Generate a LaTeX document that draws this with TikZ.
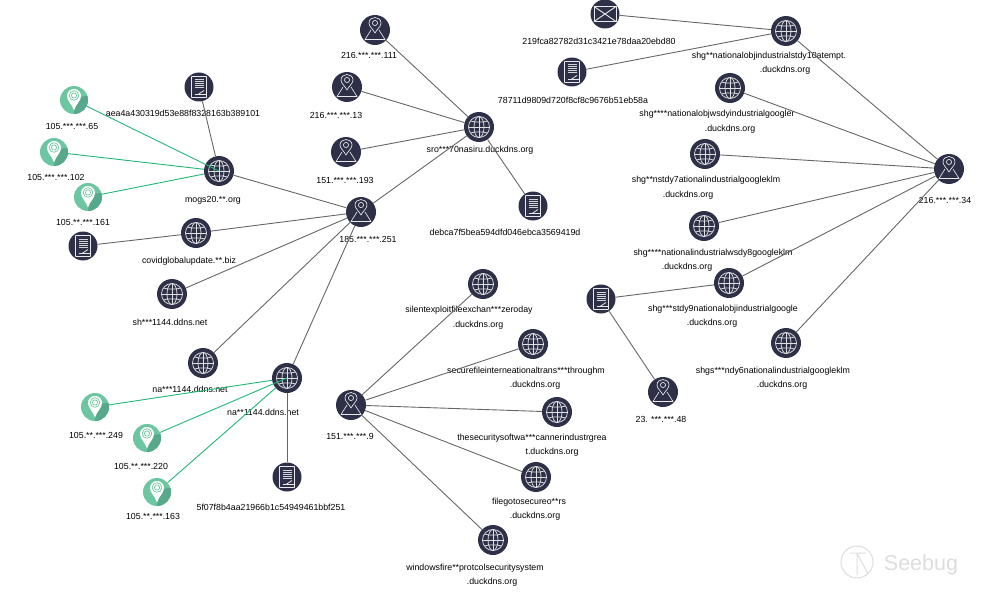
\documentclass[tikz,border=0pt]{standalone}
\usepackage{fontspec}
\setmainfont{Liberation Sans}
\usepackage{tikz}
\usetikzlibrary{positioning, calc}
\definecolor{darknode}{HTML}{2E3047}
\definecolor{greennode}{HTML}{6CC6A1}
\definecolor{greenshade}{HTML}{58A98B}
\definecolor{greenedge}{HTML}{1FB873}
\definecolor{greyedge}{HTML}{666666}
\definecolor{logogrey}{HTML}{DDDDDD}
\newcommand{\globeicon}{%
    \begin{scope}[shift={(path picture bounding box.center)}, draw=white!85!darknode, line width=0.75pt]
        \draw (0,0) circle (10.5);
        \draw (0,0) ellipse (5 and 10.5);
        \draw (0,-10.5) -- (0,10.5);
        \draw (-10.5,0) -- (10.5,0);
        \draw (-8.5,-6) .. controls (-4,-4.5) and (4,-4.5) .. (8.5,-6);
        \draw (-8.5,6) .. controls (-4,4.5) and (4,4.5) .. (8.5,6);
    \end{scope}}
\newcommand{\locateicon}{%
    \begin{scope}[shift={(path picture bounding box.center)}, draw=white!90!darknode, line width=0.65pt, line join=round]
        \draw (0,3) .. controls (-2,-1) and (-6,-3.5) .. (-6,-7) .. controls (-6,-10.5) and (-3,-12.5) .. (0,-12.5)
              .. controls (3,-12.5) and (6,-10.5) .. (6,-7) .. controls (6,-3.5) and (2,-1) .. (0,3) -- cycle;
        \draw (0,-7) circle (2.6);
        \draw (-4,0) -- (-10,9.5) -- (10,9.5) -- (4,0);
    \end{scope}}
\newcommand{\fileicon}{%
    \begin{scope}[shift={(path picture bounding box.center)}, draw=white!90!darknode, line width=0.75pt]
        \draw[rounded corners=0.5pt] (-7.5,-10.5) rectangle (7.5,10.5);
        \foreach \liney in {-7,-5,-3,-1,1}
            \draw[line width=1pt, white!80!darknode] (-4.5,\liney) -- (4.5,\liney);
        \draw (-1,7.5) -- (5,3.5);
        \draw (-4.5,7.5) -- (7,7.5);
    \end{scope}}
\newcommand{\mailicon}{%
    \begin{scope}[shift={(path picture bounding box.center)}, draw=white!90!darknode, line width=0.9pt]
        \draw (-11,-7.5) rectangle (11,7.5);
        \draw (-11,-7.5) -- (11,7.5) (11,-7.5) -- (-11,7.5);
    \end{scope}}
\newcommand{\greenicon}{%
    \begin{scope}[shift={(path picture bounding box.center)}]
        \fill[greenshade] (0,10) -- (5,-3) -- (20,-5) -- (20,20) -- (0,20) -- cycle;
        \fill[white] (0,10.5) .. controls (-2,4) and (-7,1) .. (-7,-4) .. controls (-7,-8) and (-4,-11) .. (0,-11)
              .. controls (4,-11) and (7,-8) .. (7,-4) .. controls (7,1) and (2,4) .. (0,10.5) -- cycle;
        \draw[greennode, line width=0.7pt] (0,-4.5) circle (4.8);
        \draw[greennode, line width=0.7pt] (0,-4.5) circle (2.6);
    \end{scope}}
\tikzstyle{globe}=[%
      circle, fill=darknode, inner sep=0pt, minimum size=30pt, path picture={\globeicon}
]
\tikzstyle{locate}=[%
      circle, fill=darknode, inner sep=0pt, minimum size=30pt, path picture={\locateicon}
]
\tikzstyle{file}=[%
      circle, fill=darknode, inner sep=0pt, minimum size=29pt, path picture={\fileicon}
]
\tikzstyle{mail}=[%
      circle, fill=darknode, inner sep=0pt, minimum size=29pt, path picture={\mailicon}
]
\tikzstyle{victim}=[%
      circle, fill=greennode, inner sep=0pt, minimum size=28pt, path picture={\greenicon}
]
\tikzstyle{lbl}=[%
      text=black, inner sep=0pt, font=\fontsize{8.8}{10}\selectfont
]
\tikzstyle{grn}=[greenedge, line width=0.9pt]
\tikzstyle{gry}=[greyedge, line width=0.9pt]
\begin{document}
\begin{tikzpicture}[x=1pt, y=-1pt]
    \useasboundingbox (0,0) rectangle (986,594);

    % left cluster
    \node[victim] (vicA) at (74,100) {};
    \node[lbl] (vicAtxt) at (72,126) {105.***.***.65};
    \node[victim] (vicB) at (54,152) {};
    \node[lbl] (vicBtxt) at (56,177) {105.***.***.102};
    \node[victim] (vicC) at (88,197) {};
    \node[lbl] (vicCtxt) at (83,222) {105.**.***.161};
    \node[file] (fileAea) at (199,87) {};
    \node[lbl] (fileAeatxt) at (183,113) {aea4a430319d53e88f8328163b389101};
    \node[globe] (mogs) at (219,171) {};
    \node[lbl] (mogstxt) at (213,200) {mogs20.**.org};
    \node[globe] (covid) at (196,233) {};
    \node[lbl] (covidtxt) at (189,261) {covidglobalupdate.**.biz};
    \node[file] (fileCov) at (83,246) {};
    \node[globe] (shddns) at (172,294) {};
    \node[lbl] (shddnstxt) at (170,322) {sh***1144.ddns.net};
    \node[locate] (hub185) at (361,212) {};
    \node[lbl] (hub185txt) at (368,239) {185.***.***.251};
    \node[globe] (naA) at (203,363) {};
    \node[lbl] (naAtxt) at (190,389) {na***1144.ddns.net};
    \node[globe] (naB) at (287,378) {};
    \node[lbl] (naBtxt) at (263,412) {na**1144.ddns.net};
    \node[victim] (vicD) at (95,407) {};
    \node[lbl] (vicDtxt) at (96,435) {105.**.***.249};
    \node[victim] (vicE) at (147,438) {};
    \node[lbl] (vicEtxt) at (141,466) {105.**.***.220};
    \node[victim] (vicF) at (157,492) {};
    \node[lbl] (vicFtxt) at (153,516) {105.**.***.163};
    \node[file] (file5f) at (287,477) {};
    \node[lbl] (file5ftxt) at (271,507) {5f07f8b4aa21966b1c54949461bbf251};

    % top middle
    \node[locate] (ipA) at (375,30) {};
    \node[lbl] (ipAtxt) at (369,55) {216.***.***.111};
    \node[locate] (ipB) at (347,87) {};
    \node[lbl] (ipBtxt) at (336,115) {216.***.***.13};
    \node[locate] (ipC) at (346,152) {};
    \node[lbl] (ipCtxt) at (345,180) {151.***.***.193};
    \node[globe] (sro) at (479,127) {};
    \node[lbl] (srotxt) at (480,150) {sro***70nasiru.duckdns.org};
    \node[file] (fileDeb) at (533,206) {};
    \node[lbl] (fileDebtxt) at (505,232) {debca7f5bea594dfd046ebca3569419d};

    % bottom middle
    \node[locate] (hub151) at (351,405) {};
    \node[lbl] (hub151txt) at (350,436) {151.***.***.9};
    \node[globe] (silent) at (483,284) {};
    \node[lbl] (silenttxt) at (469,310) {silentexploitfileexchan***zeroday};
    \node[lbl] (silentdom) at (478,325) {.duckdns.org};
    \node[globe] (secure) at (533,344) {};
    \node[lbl] (securetxt) at (526,371) {securefileinterneationaltrans***throughm};
    \node[lbl] (securedom) at (535,385) {.duckdns.org};
    \node[globe] (thesec) at (557,412) {};
    \node[lbl] (thesectxt) at (532,438) {thesecuritysoftwa***cannerindustrgrea};
    \node[lbl] (thesecdom) at (552,452) {t.duckdns.org};
    \node[globe] (filego) at (536,477) {};
    \node[lbl] (filegotxt) at (529,502) {filegotosecureo**rs};
    \node[lbl] (filegodom) at (535,516) {.duckdns.org};
    \node[globe] (winfire) at (493,540) {};
    \node[lbl] (winfiretxt) at (475,568) {windowsfire**protcolsecuritysystem};
    \node[lbl] (winfiredom) at (492,582) {.duckdns.org};

    % right cluster
    \node[mail] (mailA) at (605,14) {};
    \node[lbl] (mailAtxt) at (599,41) {219fca82782d31c3421e78daa20ebd80};
    \node[file] (file787) at (572,72) {};
    \node[lbl] (file787txt) at (573,100) {78711d9809d720f8cf8c9676b51eb58a};
    \node[globe] (shgA) at (786,31) {};
    \node[lbl] (shgAtxt) at (769,56) {shg**nationalobjindustrialstdy10atempt.};
    \node[lbl] (shgAdom) at (785,70) {.duckdns.org};
    \node[globe] (shgB) at (730,88) {};
    \node[lbl] (shgBtxt) at (717,114) {shg****nationalobjwsdyindustrialgoogler};
    \node[lbl] (shgBdom) at (730,129) {.duckdns.org};
    \node[globe] (shgC) at (705,154) {};
    \node[lbl] (shgCtxt) at (706,180) {shg**nstdy7ationalindustrialgoogleklm};
    \node[lbl] (shgCdom) at (688,195) {.duckdns.org};
    \node[globe] (shgD) at (704,226) {};
    \node[lbl] (shgDtxt) at (713,253) {shg****nationalindustrialwsdy8googleklm};
    \node[lbl] (shgDdom) at (687,267) {.duckdns.org};
    \node[globe] (shgE) at (729,283) {};
    \node[lbl] (shgEtxt) at (723,309) {shg***stdy9nationalobjindustrialgoogle};
    \node[lbl] (shgEdom) at (712,323) {.duckdns.org};
    \node[globe] (shgF) at (786,343) {};
    \node[lbl] (shgFtxt) at (773,371) {shgs***ndy6nationalindustrialgoogleklm};
    \node[lbl] (shgFdom) at (782,385) {.duckdns.org};
    \node[locate] (hub216) at (949,169) {};
    \node[lbl] (hub216txt) at (945,200) {216.***.***.34};
    \node[file] (file600) at (601,299) {};
    \node[locate] (ipD) at (663,392) {};
    \node[lbl] (ipDtxt) at (661,419) {23. ***.***.48};

    % logo
    \node[circle, draw=logogrey, line width=1pt, minimum size=32pt, inner sep=0pt] (logomark) at (857,562) {};
    \node[lbl, text=logogrey, font=\fontsize{21.5}{24}\selectfont] (logotxt) at (921,565) {Seebug};

    \path (vicA) edge[grn] (mogs.center)
          (vicB) edge[grn] (mogs)
          (vicC) edge[grn] (mogs)
          (vicD) edge[grn] (naB)
          (vicE) edge[grn] (naB.center)
          (vicF) edge[grn] (naB)
    ;
    \path (fileAea) edge[gry] (mogs)
          (mogs) edge[gry] (hub185)
          (fileCov) edge[gry] (covid)
          (covid) edge[gry] (hub185)
          (shddns) edge[gry] (hub185)
          (naA) edge[gry] (hub185)
          (naB) edge[gry] (hub185)
          (naB) edge[gry] (file5f)
          (hub185) edge[gry] (sro)
          (ipA) edge[gry] (sro)
          (ipB) edge[gry] (sro)
          (ipC) edge[gry] (sro)
          (sro) edge[gry] (fileDeb)
          (hub151) edge[gry] (silent)
          (hub151) edge[gry] (secure)
          (hub151) edge[gry] (thesec)
          (hub151) edge[gry] (filego)
          (hub151) edge[gry] (winfire)
          (mailA) edge[gry] (shgA)
          (file787) edge[gry] (shgA)
          (shgA) edge[gry] (hub216)
          (shgB) edge[gry] (hub216)
          (shgC) edge[gry] (hub216)
          (shgD) edge[gry] (hub216)
          (shgE) edge[gry] (hub216)
          (shgF) edge[gry] (hub216)
          (file600) edge[gry] (shgE)
          (file600) edge[gry] (ipD)
    ;
    \draw[logogrey, line width=1pt] (850,553) -- (866,553) (857,553) -- (857,575) (857,553) -- (868,574);

\end{tikzpicture}
\end{document}
